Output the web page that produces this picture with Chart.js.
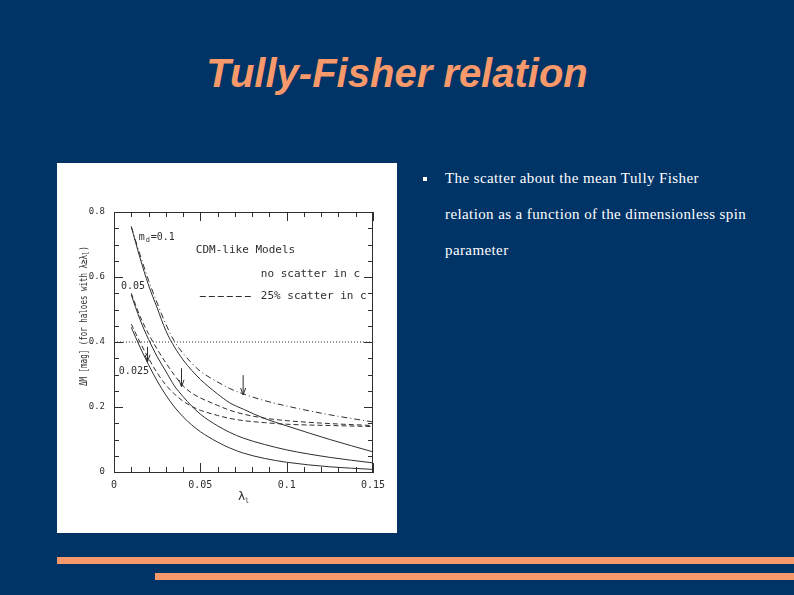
<!DOCTYPE html>
<html>
<head>
<meta charset="utf-8">
<script src="https://cdn.jsdelivr.net/npm/chart.js@4.4.1/dist/chart.umd.min.js"></script>
<style>
  html, body { margin: 0; padding: 0; }
  body { width: 794px; height: 595px; background: #003366; position: relative; overflow: hidden; }
  #title { position: absolute; left: 0; top: 53px; width: 794px; text-align: center;
           font: italic bold 40px/40px 'Liberation Sans', Arial, sans-serif; color: #f7996a; }
  #figure { position: absolute; left: 57px; top: 163px; width: 340px; height: 370px; background: #fff; }
  #text { position: absolute; left: 445px; top: 160px; width: 340px; letter-spacing: 0.4px;
          font: 15px/36px 'Liberation Serif', 'Times New Roman', serif; color: #fff; }
  #bullet { position: absolute; left: 423px; top: 177px; width: 4px; height: 4px; background: #fff; }
  .bar { position: absolute; height: 7px; background: #f7996a; right: 0; }
</style>
</head>
<body>
<div id="title">Tully-Fisher relation</div>
<div id="figure"><canvas id="chart" width="340" height="370"></canvas></div>
<div id="bullet"></div>
<div id="text">The scatter about the mean Tully Fisher<br>relation as a function of the dimensionless spin<br>parameter</div>
<div class="bar" style="left:57px; top:557px;"></div>
<div class="bar" style="left:155px; top:573px;"></div>
<script>
// spin parameter samples shared by every curve
const LAMBDA = [0.01, 0.015, 0.02, 0.025, 0.03, 0.035, 0.04, 0.045, 0.05, 0.06, 0.067, 0.075, 0.087, 0.1, 0.125, 0.15];

// m_d = 0.1
const MD01_SOLID   = [0.755, 0.66, 0.575, 0.505, 0.435, 0.385, 0.345, 0.313, 0.285, 0.24, 0.213, 0.193, 0.165, 0.142, 0.10, 0.062];
const MD01_SCATTER = [0.755, 0.67, 0.59, 0.52, 0.455, 0.402, 0.365, 0.335, 0.31, 0.277, 0.257, 0.24, 0.22, 0.203, 0.176, 0.154];
// m_d = 0.05
const MD005_SOLID   = [0.545, 0.47, 0.408, 0.355, 0.31, 0.265, 0.232, 0.203, 0.178, 0.142, 0.122, 0.104, 0.085, 0.068, 0.045, 0.028];
const MD005_SCATTER = [0.55, 0.48, 0.425, 0.378, 0.336, 0.298, 0.265, 0.243, 0.228, 0.205, 0.19, 0.178, 0.166, 0.158, 0.149, 0.143];
// m_d = 0.025
const MD0025_SOLID   = [0.445, 0.385, 0.33, 0.28, 0.237, 0.2, 0.17, 0.145, 0.124, 0.092, 0.074, 0.058, 0.042, 0.03, 0.016, 0.008];
const MD0025_SCATTER = [0.455, 0.40, 0.35, 0.305, 0.268, 0.24, 0.218, 0.202, 0.19, 0.174, 0.165, 0.158, 0.152, 0.147, 0.143, 0.14];

const CURVE_LABELS = ['0.1', '0.05', '0.025'];
const LIMIT = 0.4;

// arrows: x position, start and tip values
const ARROW_X    = [0.0194, 0.0391, 0.0748];
const ARROW_FROM = [0.385, 0.319, 0.298];
const ARROW_TO   = [0.339, 0.262, 0.237];

const X_TICKS = [0, 0.05, 0.1, 0.15];
const X_TICK_LABELS = ['0', '0.05', '0.1', '0.15'];
const Y_TICKS = [0, 0.2, 0.4, 0.6, 0.8];
const Y_TICK_LABELS = ['0', '0.2', '0.4', '0.6', '0.8'];

const INK = '#2e2e2e';
const MONO = "'DejaVu Sans Mono', monospace";

function pts(ys) {
  return LAMBDA.map(function(x, i) { return { x: x, y: ys[i] }; });
}

function curve(ys, dash) {
  return { data: pts(ys), borderColor: INK, borderWidth: 1, borderDash: dash || [],
           pointRadius: 0, fill: false, cubicInterpolationMode: 'monotone' };
}

// inner ticks, frame, arrows and all figure text
const figureDecor = {
  id: 'figureDecor',
  afterDatasetsDraw: function(chart) {
    var ctx = chart.ctx, a = chart.chartArea;
    var xs = chart.scales.x, ys = chart.scales.y;
    ctx.save();
    ctx.strokeStyle = INK;
    ctx.lineWidth = 1;
    ctx.strokeRect(a.left + 0.5, a.top + 0.5, a.right - a.left - 1, a.bottom - a.top);

    ctx.beginPath();
    for (var i = 0; i <= 15; i++) {
      var v = i / 100, px = Math.round(xs.getPixelForValue(v)) + 0.5;
      var len = (i % 5 === 0) ? 9 : 5;
      ctx.moveTo(px, a.bottom); ctx.lineTo(px, a.bottom - len);
      ctx.moveTo(px, a.top); ctx.lineTo(px, a.top + len);
    }
    for (var j = 0; j <= 16; j++) {
      var w = j * 0.05, py = Math.round(ys.getPixelForValue(w)) + 0.5;
      var l2 = (j % 4 === 0) ? 9 : 5;
      ctx.moveTo(a.left, py); ctx.lineTo(a.left + l2, py);
      ctx.moveTo(a.right, py); ctx.lineTo(a.right - l2, py);
    }
    ctx.stroke();

    // arrows
    ARROW_X.forEach(function(x, k) {
      var px = xs.getPixelForValue(x);
      var p0 = ys.getPixelForValue(ARROW_FROM[k]), p1 = ys.getPixelForValue(ARROW_TO[k]);
      ctx.beginPath();
      ctx.moveTo(px, p0); ctx.lineTo(px, p1);
      ctx.moveTo(px - 2.5, p1 - 7); ctx.lineTo(px, p1); ctx.lineTo(px + 2.5, p1 - 7);
      ctx.stroke();
    });

    ctx.fillStyle = INK;
    ctx.textBaseline = 'middle';
    ctx.textAlign = 'left';
    ctx.font = '10px ' + MONO;

    // curve labels
    var lx = xs.getPixelForValue(0.0143), ly = ys.getPixelForValue(0.723);
    ctx.fillText('m', lx, ly);
    ctx.font = '7px ' + MONO;
    ctx.fillText('d', lx + 7, ly + 3);
    ctx.font = '10px ' + MONO;
    ctx.fillText('=' + CURVE_LABELS[0], lx + 12, ly);
    ctx.fillText(CURVE_LABELS[1], xs.getPixelForValue(0.0040), ys.getPixelForValue(0.57));
    ctx.fillText(CURVE_LABELS[2], xs.getPixelForValue(0.0028), ys.getPixelForValue(0.31));

    // legend
    ctx.font = '11px ' + MONO;
    ctx.fillText('CDM-like Models', xs.getPixelForValue(0.0474), ys.getPixelForValue(0.682));
    ctx.fillText('no scatter in c', xs.getPixelForValue(0.085), ys.getPixelForValue(0.61));
    ctx.fillText('25% scatter in c', xs.getPixelForValue(0.085), ys.getPixelForValue(0.542));
    ctx.setLineDash([6, 3]);
    ctx.beginPath();
    var ly2 = Math.round(ys.getPixelForValue(0.542)) + 0.5;
    ctx.moveTo(xs.getPixelForValue(0.0497), ly2);
    ctx.lineTo(xs.getPixelForValue(0.0799), ly2);
    ctx.stroke();
    ctx.setLineDash([]);

    // x title
    ctx.font = '12px ' + MONO;
    ctx.fillText('\u03bb', 181, 334);
    ctx.font = '7px ' + MONO;
    ctx.fillText('l', 188, 338);

    // y title, squeezed to the length of the original label
    ctx.translate(27, 153);
    ctx.rotate(-Math.PI / 2);
    ctx.font = '11px ' + MONO;
    var main = '\u0394M [mag] (for haloes with \u03bb\u2265\u03bb';
    var wMain = ctx.measureText(main).width;
    var total = wMain + 13;
    ctx.scale(140 / total, 1);
    var start = -total / 2;
    ctx.fillText(main, start, 0);
    ctx.font = '8px ' + MONO;
    ctx.fillText('l', start + wMain, 3);
    ctx.font = '11px ' + MONO;
    ctx.fillText(')', start + wMain + 6, 0);
    ctx.restore();
  }
};

new Chart(document.getElementById('chart'), {
  type: 'line',
  data: {
    datasets: [
      curve(MD01_SOLID),
      curve(MD01_SCATTER, [6, 3, 1, 3]),
      curve(MD005_SOLID),
      curve(MD005_SCATTER, [5, 3]),
      curve(MD0025_SOLID),
      curve(MD0025_SCATTER, [5, 3]),
      { data: [{ x: 0, y: LIMIT }, { x: 0.15, y: LIMIT }], borderColor: INK, borderWidth: 1,
        borderDash: [1, 2], pointRadius: 0, fill: false }
    ]
  },
  options: {
    responsive: false,
    animation: false,
    layout: { padding: { top: 49, right: 24, left: 0, bottom: 0 } },
    plugins: { legend: { display: false }, tooltip: { enabled: false } },
    scales: {
      x: {
        type: 'linear', min: 0, max: 0.15,
        afterBuildTicks: function(s) { s.ticks = X_TICKS.map(function(v) { return { value: v }; }); },
        afterFit: function(s) { s.height = 61; },
        ticks: { color: INK, padding: 7, maxRotation: 0, autoSkip: false,
                 font: { family: MONO, size: 10 },
                 callback: function(v, i) { return X_TICK_LABELS[i]; } },
        grid: { display: false, drawTicks: false },
        border: { display: true, color: INK, width: 1 }
      },
      y: {
        type: 'linear', min: 0, max: 0.8,
        afterBuildTicks: function(s) { s.ticks = Y_TICKS.map(function(v) { return { value: v }; }); },
        afterFit: function(s) { s.width = 57; },
        ticks: { color: INK, padding: 9, autoSkip: false,
                 font: { family: MONO, size: 9 },
                 callback: function(v, i) { return Y_TICK_LABELS[i]; } },
        grid: { display: false, drawTicks: false },
        border: { display: true, color: INK, width: 1 }
      }
    }
  },
  plugins: [figureDecor]
});
</script>
</body>
</html>
